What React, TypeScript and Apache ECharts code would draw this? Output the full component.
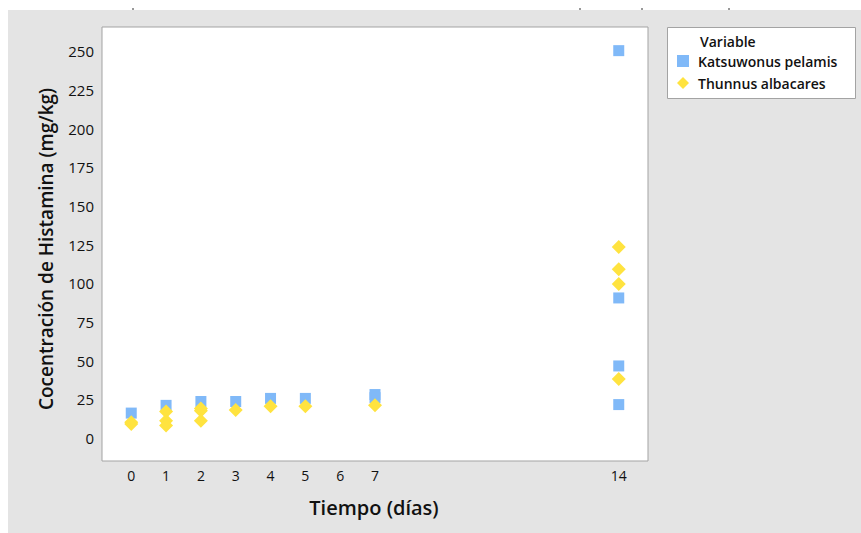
import React, { useEffect, useRef } from "react";
import * as echarts from "echarts";

const katsuDays = [0, 1, 2, 3, 4, 5, 7, 7, 14, 14, 14, 14];
const katsuVals = [16, 21, 23.5, 23.5, 25.5, 25.5, 28, 26, 250.5, 90.5, 46.5, 21.5];

const albaDays = [0, 0, 1, 1, 1, 2, 2, 2, 3, 4, 5, 7, 14, 14, 14, 14];
const albaVals = [10, 9, 17, 11, 8, 19, 17.5, 11, 18, 20.5, 20.5, 21, 123.5, 109, 99.5, 38];

const xTicks = [0, 1, 2, 3, 4, 5, 6, 7, 14];
const yTicks = [0, 25, 50, 75, 100, 125, 150, 175, 200, 225, 250];

const seriesNames = ["Katsuwonus pelamis", "Thunnus albacares"];
const legendTitle = "Variable";
const xTitle = "Tiempo (días)";
const yTitle = "Cocentración de Histamina (mg/kg)";

const FONT = "'Open Sans', 'Noto Sans', sans-serif";

export default function App() {
  const ref = useRef<HTMLDivElement>(null);
  useEffect(() => {
    document.body.style.margin = "0";
    const chart = echarts.init(ref.current!, null, { renderer: "svg" });
    const pair = (xs: number[], ys: number[]) => xs.map((x, i) => [x, ys[i]]);
    chart.setOption({
      animation: false,
      backgroundColor: "#ffffff",
      textStyle: { fontFamily: FONT },
      grid: {
        left: 102,
        top: 27,
        width: 546,
        height: 434,
        show: true,
        backgroundColor: "#ffffff",
        borderColor: "#a3a3a3",
        borderWidth: 1,
        z: 1,
      },
      xAxis: {
        type: "value",
        min: -0.84,
        max: 14.84,
        splitLine: { show: false },
        axisLine: { show: false },
        axisTick: { show: true, length: 5, lineStyle: { color: "#8c8c8c" }, customValues: xTicks },
        axisLabel: {
          customValues: xTicks,
          margin: 7,
          fontSize: 14,
          fontWeight: 500,
          color: "#111111",
          fontFamily: FONT,
        },
      },
      yAxis: {
        type: "value",
        min: -15,
        max: 265.8,
        splitLine: { show: false },
        axisLine: { show: false },
        axisTick: { show: true, length: 5, lineStyle: { color: "#8c8c8c" }, customValues: yTicks },
        axisLabel: {
          customValues: yTicks,
          margin: 8,
          fontSize: 15,
          fontWeight: 500,
          color: "#111111",
          fontFamily: FONT,
        },
      },
      legend: {
        orient: "vertical",
        left: 677,
        top: 54,
        itemWidth: 12,
        itemHeight: 12,
        itemGap: 8,
        padding: 0,
        textStyle: { fontSize: 14, fontWeight: 600, color: "#111111", fontFamily: FONT, padding: [0, 0, 0, 4] },
        data: [
          { name: seriesNames[0], icon: "rect" },
          { name: seriesNames[1], icon: "diamond" },
        ],
      },
      graphic: [
        { type: "rect", z: -10, shape: { x: 8, y: 10, width: 853, height: 523 }, style: { fill: "#e4e4e4" } },
        { type: "line", shape: { x1: 133, y1: 8, x2: 133, y2: 10 }, style: { stroke: "#333", lineWidth: 1 } },
        { type: "line", shape: { x1: 580, y1: 8, x2: 580, y2: 10 }, style: { stroke: "#333", lineWidth: 1 } },
        { type: "line", shape: { x1: 642, y1: 8, x2: 642, y2: 10 }, style: { stroke: "#333", lineWidth: 1 } },
        { type: "line", shape: { x1: 729, y1: 8, x2: 729, y2: 10 }, style: { stroke: "#333", lineWidth: 1 } },
        {
          type: "rect",
          z: -5,
          shape: { x: 667.5, y: 27.5, width: 188, height: 71 },
          style: { fill: "#ffffff", stroke: "#a3a3a3", lineWidth: 1 },
        },
        {
          type: "text",
          x: 700,
          y: 41,
          style: {
            text: legendTitle,
            font: `600 14px ${FONT}`,
            fill: "#111111",
            textAlign: "left",
            textVerticalAlign: "middle",
          },
        },
        {
          type: "text",
          x: 374,
          y: 507,
          style: {
            text: xTitle,
            font: `600 20px ${FONT}`,
            fill: "#111111",
            textAlign: "center",
            textVerticalAlign: "middle",
          },
        },
        {
          type: "text",
          x: 46,
          y: 249,
          rotation: Math.PI / 2,
          style: {
            text: yTitle,
            font: `600 19px ${FONT}`,
            fill: "#111111",
            textAlign: "center",
            textVerticalAlign: "middle",
          },
        },
      ],
      series: [
        {
          name: seriesNames[0],
          type: "scatter",
          symbol: "rect",
          symbolSize: 11,
          itemStyle: { color: "#80b9f8", opacity: 1 },
          data: pair(katsuDays, katsuVals),
          z: 3,
        },
        {
          name: seriesNames[1],
          type: "scatter",
          symbol: "diamond",
          symbolSize: 14,
          itemStyle: { color: "#ffe33f", opacity: 1 },
          data: pair(albaDays, albaVals),
          z: 4,
        },
      ],
    });
    return () => chart.dispose();
  }, []);
  return <div ref={ref} style={{ width: 861, height: 533 }} />;
}
